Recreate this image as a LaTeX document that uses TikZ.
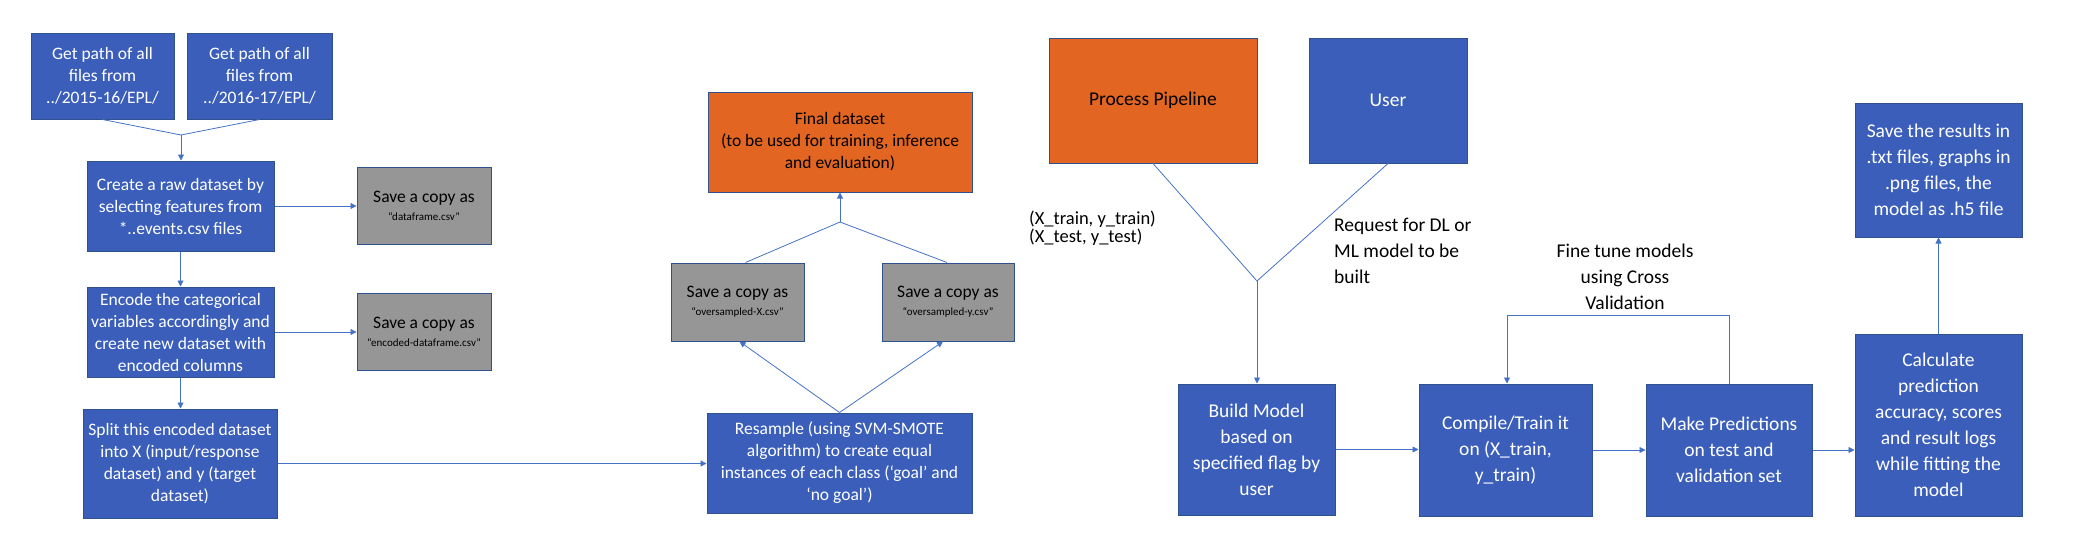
\documentclass[tikz,border=0pt]{standalone}
\usepackage{fontspec}
\setmainfont{Carlito}
\usetikzlibrary{arrows.meta,positioning}
\definecolor{boxblue}{RGB}{58,94,186}
\definecolor{bordc}{RGB}{47,82,143}
\definecolor{orangebox}{RGB}{226,102,33}
\definecolor{graybox}{RGB}{150,150,150}
\definecolor{linec}{RGB}{68,114,196}
\newcommand{\fsz}[2]{\fontsize{#1}{#2}\selectfont}
\tikzset{
  bx/.style={draw=bordc, line width=1pt, fill=boxblue, text=white, align=center, inner sep=0pt, font=\fsz{17.5}{22}},
  bxr/.style={bx, font=\fsz{19.5}{26}},
  orb/.style={bx, fill=orangebox, text=black},
  gbx/.style={bx, fill=graybox, text=black},
  conn/.style={draw=linec, line width=0.8pt},
  arr/.style={conn, -{Triangle[width=6pt,length=6pt]}},
  lbl/.style={inner sep=0pt, text=black},
}
\begin{document}
\begin{tikzpicture}[x=1pt,y=-1pt]
\useasboundingbox (0,0) rectangle (2088,536);
% left column
\node[bx, minimum width=143pt, minimum height=86pt] (A) at (102.5,76) {Get path of all\\files from\\../2015-16/EPL/};
\node[bx, minimum width=145pt, minimum height=86pt] (B) at (259.5,76) {Get path of all\\files from\\../2016-17/EPL/};
\node[bx, minimum width=187pt, minimum height=90pt] (C) at (180.5,206) {Create a raw dataset by\\selecting features from\\*..events.csv files};
\node[gbx, minimum width=134pt, minimum height=77pt] (S1) at (424,205.5) {Save a copy as\\[-4pt]{\fsz{11}{13}“dataframe.csv”}};
\node[bx, minimum width=187pt, minimum height=90pt] (E) at (180.5,332) {Encode the categorical\\variables accordingly and\\create new dataset with\\encoded columns};
\node[gbx, minimum width=134pt, minimum height=77pt] (S2) at (424,331.5) {Save a copy as\\[-4pt]{\fsz{11}{13}“encoded-dataframe.csv”}};
\node[bx, minimum width=194pt, minimum height=109pt] (SP) at (180,463.5) {Split this encoded dataset\\into X (input/response\\dataset) and y (target\\dataset)};
% middle
\node[bx, minimum width=265pt, minimum height=100pt] (R) at (839.5,463) {Resample (using SVM-SMOTE\\algorithm) to create equal\\instances of each class (‘goal’ and\\‘no goal’)};
\node[gbx, minimum width=133pt, minimum height=78pt] (SX) at (737.5,302) {Save a copy as\\[-4pt]{\fsz{11}{13}“oversampled-X.csv”}};
\node[gbx, minimum width=132pt, minimum height=78pt] (SY) at (948,302) {Save a copy as\\[-4pt]{\fsz{11}{13}“oversampled-y.csv”}};
\node[orb, minimum width=264pt, minimum height=100pt] (F) at (840,142) {Final dataset\\(to be used for training, inference\\and evaluation)};
% right
\node[orb, font=\fsz{19.5}{26}, minimum width=208pt, minimum height=125pt] (PP) at (1153,100.5) {Process Pipeline};
\node[bxr, minimum width=158pt, minimum height=125pt] (U) at (1388,100.5) {User};
\node[bxr, minimum width=157pt, minimum height=131pt] (BM) at (1256.5,449.5) {Build Model\\based on\\specified flag by\\user};
\node[bxr, minimum width=173pt, minimum height=132pt] (CT) at (1505.5,450) {Compile/Train it\\on (X\_train,\\y\_train)};
\node[bxr, minimum width=166pt, minimum height=132pt] (MP) at (1729,450) {Make Predictions\\on test and\\validation set};
\node[bxr, minimum width=167pt, minimum height=182pt] (CA) at (1938.5,425) {Calculate\\prediction\\accuracy, scores\\and result logs\\while fitting the\\model};
\node[bxr, minimum width=167pt, minimum height=134pt] (SR) at (1938.5,170) {Save the results in\\.txt files, graphs in\\.png files, the\\model as .h5 file};
% labels
\node[lbl, anchor=west, align=left, font=\fsz{18.5}{18}] (L1) at (1029,228) {(X\_train, y\_train)\\(X\_test, y\_test)};
\node[lbl, anchor=west, align=left, font=\fsz{19.5}{26}] (L2) at (1334,250.5) {Request for DL or\\ML model to be\\built};
\node[lbl, align=center, font=\fsz{19.5}{26}] (L3) at (1625,277) {Fine tune models\\using Cross\\Validation};
% coordinates
\coordinate (m1) at (181,135);
\coordinate (m2) at (840,222);
\coordinate (m3) at (1257,281);
\coordinate (fb) at (1729,315);
\coordinate (fc) at (1507,315);
% connectors
\draw[conn] (A.south) -- (m1) -- (B.south);
\draw[arr] (m1) -- (C.north -| m1);
\draw[arr] (C.east) -- (S1.west |- C.east);
\draw[arr] (C.south) -- (E.north);
\draw[arr] (E.east) -- (S2.west |- E.east);
\draw[arr] (E.south) -- (SP.north -| E.south);
\draw[arr] (SP.east) -- (R.west |- SP.east);
\draw[arr] (R.north) -- ([xshift=2pt]SX.south);
\draw[arr] (R.north) -- ([xshift=-5pt]SY.south);
\draw[conn] ([xshift=8pt]SX.north) -- (m2) -- ([xshift=-1pt]SY.north);
\draw[arr] (m2) -- (F.south);
\draw[conn] (PP.south) -- (m3) -- (U.south);
\draw[arr] (m3) -- (BM.north -| m3);
\draw[arr] (BM.east) -- (CT.west |- BM.east);
\draw[arr] (CT.east) -- (MP.west |- CT.east);
\draw[arr] (MP.east) -- (CA.west |- MP.east);
\draw[arr] (MP.north) -- (fb) -- (fc) -- (CT.north -| fc);
\draw[arr] (CA.north) -- (SR.south);
\end{tikzpicture}
\end{document}
